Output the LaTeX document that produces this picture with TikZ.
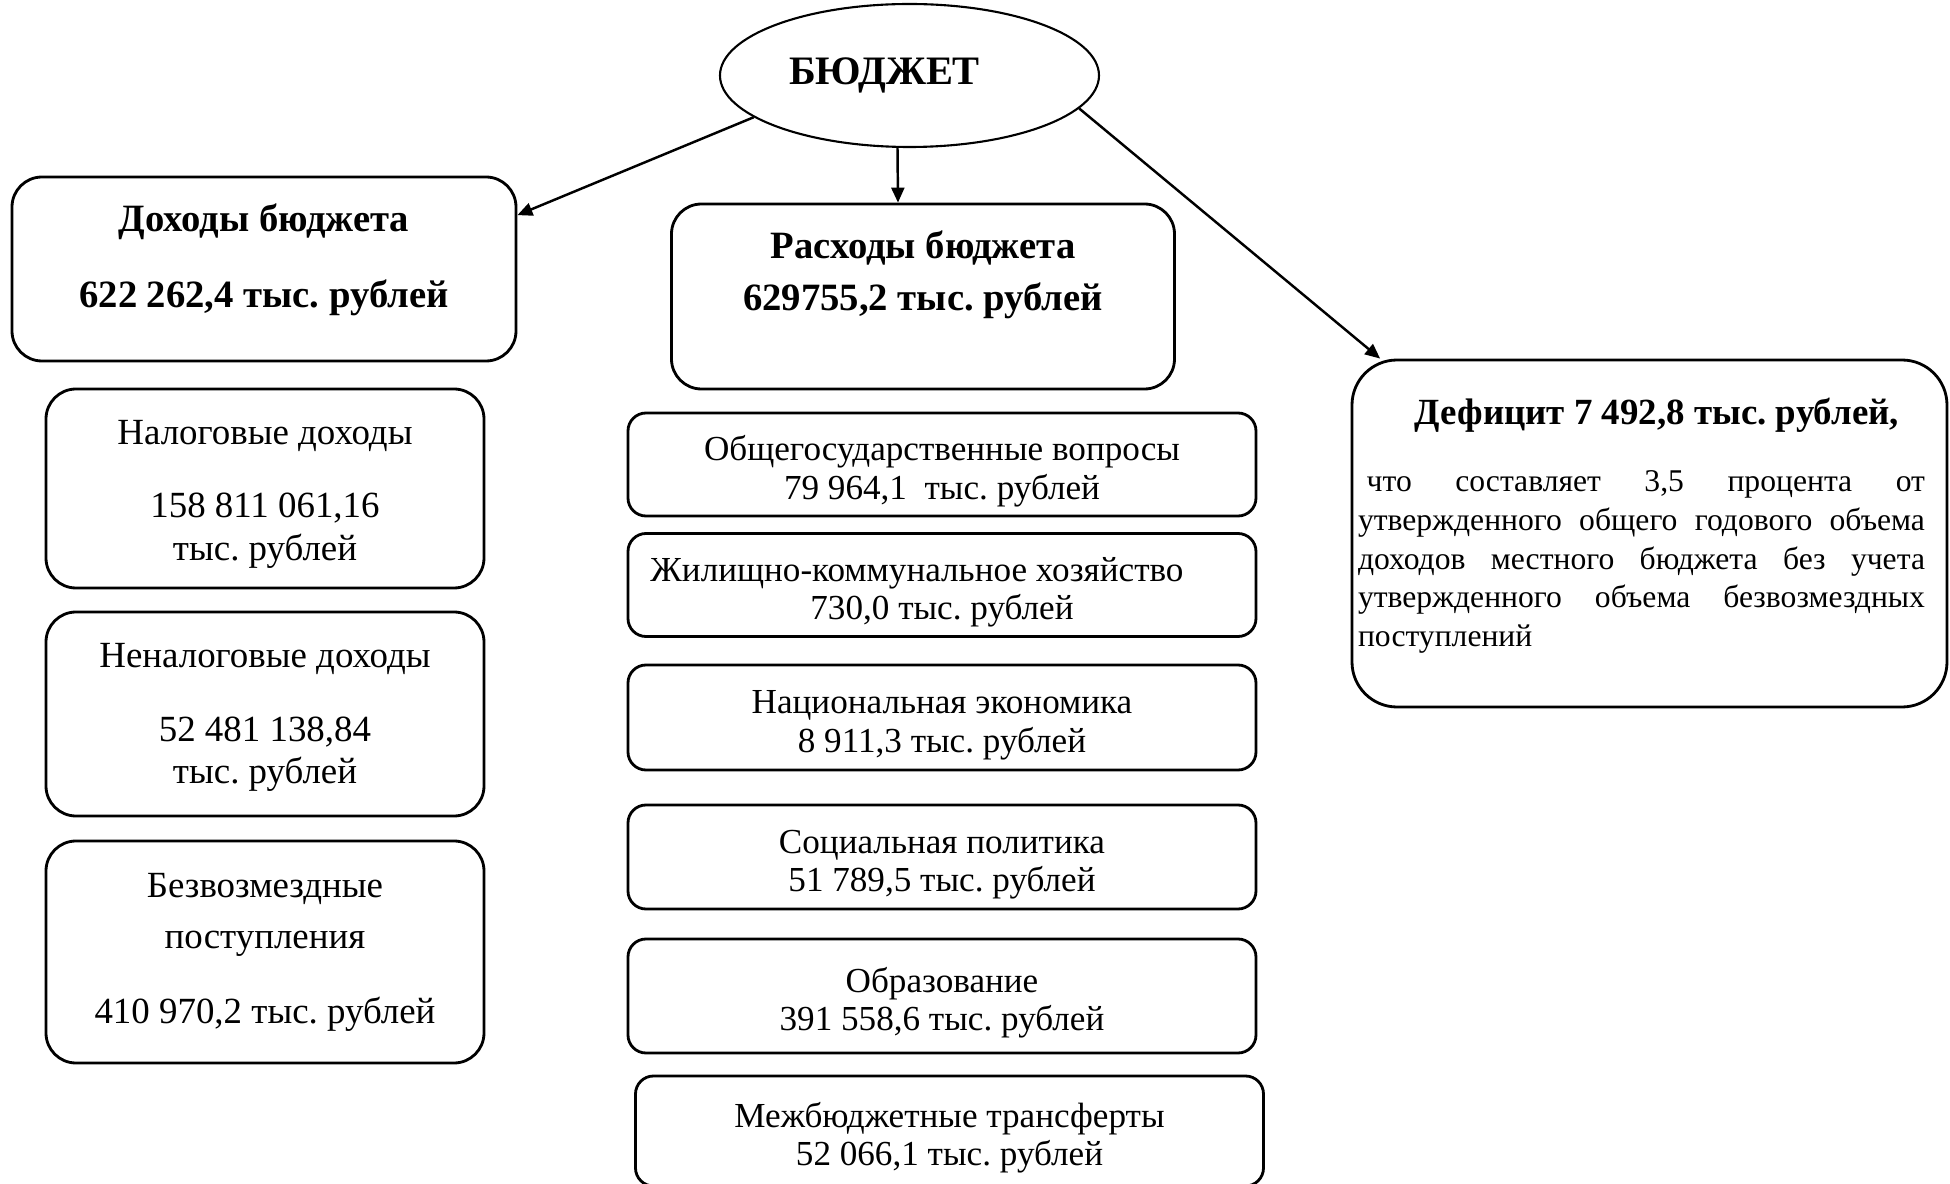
\documentclass[tikz,border=0pt]{standalone}
\usepackage{fontspec}
\setmainfont{Liberation Serif}
\usetikzlibrary{arrows.meta,shapes.geometric}
\frenchspacing
\newcommand{\topstrut}{\rule{0pt}{11pt}}

\begin{document}
\begin{tikzpicture}[
	>={Triangle[length=0.15cm,width=0.13cm]},
	box/.style={draw, line width=0.8pt, rounded corners=0.3cm, align=center},
	mainbox/.style={box, minimum width=5.04cm, minimum height=1.84cm},
	inbox/.style={box, minimum width=4.38cm, font=\fontsize{10.5}{12}\selectfont},
	outbox/.style={box, rounded corners=0.18cm, inner ysep=0pt, minimum width=6.28cm, font=\fontsize{10}{11}\selectfont},
	head/.style={align=center, font=\fontsize{11}{13}\selectfont\bfseries},
	]
	\useasboundingbox (0,0) rectangle (19.5,-11.84);
	\clip (0,0) rectangle (19.5,-11.84);
	% top
	\node[draw, ellipse, line width=0.6pt, minimum width=3.79cm, minimum height=1.43cm, font=\fontsize{11.5}{13}\selectfont\bfseries] (B) at (9.095, -0.755) {БЮДЖЕТ\hspace*{0.5cm}};
	\node[mainbox] (D) at (2.64, -2.69) {};
	\node[head] (Dt) at (2.64, -2.6) {Доходы бюджета\\[0.3cm]622 262,4 тыс. рублей};
	\node[mainbox, minimum width=5.03cm, minimum height=1.85cm] (R) at (9.23, -2.965) {};
	\node[head] (Rt) at (9.23, -2.75) {Расходы бюджета\\[0.06cm]629755,2 тыс. рублей};
	\node[box, rounded corners=0.45cm, minimum width=5.95cm, minimum height=3.47cm] (Def) at (16.495, -5.335) {};
	\node[head, font=\fontsize{10.5}{12}\selectfont\bfseries] (Deft) at (16.57, -4.15) {Дефицит 7 492,8 тыс. рублей,};
	\node[text width=5.67cm, align=justify, inner sep=0pt, font=\fontsize{9}{11.06}\selectfont] (Defp) at (16.415, -5.62) {\noindent\hspace*{0.6ex}что составляет 3,5 процента от\linebreak утвержденного общего годового объема\linebreak доходов местного бюджета без учета\linebreak утвержденного объема безвозмездных\linebreak поступлений};
	% доходы
	\node[inbox, minimum height=1.99cm] (d1) at (2.65, -4.885) {\rule{0pt}{10pt}Налоговые доходы\\[9pt]158 811 061,16\\тыс. рублей};
	\node[inbox, minimum height=2.04cm] (d2) at (2.65, -7.14) {\rule{0pt}{9pt}Неналоговые доходы\\[9pt]52 481 138,84\\тыс. рублей};
	\node[inbox, minimum height=2.22cm] (d3) at (2.65, -9.52) {Безвозмездные\\[2.5pt]поступления\\[9.3pt]410 970,2 тыс. рублей};
	% расходы
	\node[outbox, minimum height=1.03cm] (r1) at (9.42, -4.645) {\topstrut Общегосударственные вопросы\\79 964,1\ \ тыс. рублей};
	\node[outbox, minimum height=1.03cm] (r2) at (9.42, -5.85) {\topstrut Жилищно-коммунальное хозяйство\hspace*{0.5cm}\\730,0 тыс. рублей};
	\node[outbox, minimum height=1.05cm] (r3) at (9.42, -7.175) {\topstrut Национальная экономика\\8 911,3 тыс. рублей};
	\node[outbox, minimum height=1.04cm] (r4) at (9.42, -8.57) {\topstrut Социальная политика\\51 789,5 тыс. рублей};
	\node[outbox, minimum height=1.14cm] (r5) at (9.42, -9.96) {\topstrut Образование\\391 558,6 тыс. рублей};
	\node[outbox, minimum height=1.10cm] (r6) at (9.495, -11.31) {\topstrut Межбюджетные трансферты\\52 066,1 тыс. рублей};
	% arrows
	\draw[->, line width=0.7pt] (B.195) -- (D.12);
	\draw[->, line width=0.7pt] ([xshift=-0.12cm]B.south) -- ([xshift=-0.25cm]R.north);
	\draw[->, line width=0.7pt] (B.-11) -- (Def.147);
\end{tikzpicture}
\end{document}
